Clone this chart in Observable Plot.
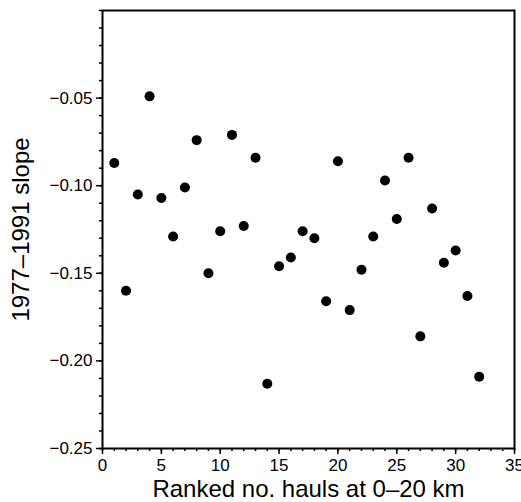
<!DOCTYPE html>
<html>
<head>
<meta charset="utf-8">
<script src="https://cdn.jsdelivr.net/npm/d3@7"></script>
<script src="https://cdn.jsdelivr.net/npm/@observablehq/plot@0.6"></script>
<style>
  html, body { margin: 0; padding: 0; background: #fff; }
  svg { display: block; }
</style>
</head>
<body>
<div id="chart"></div>
<script>
const rank = [1,2,3,4,5,6,7,8,9,10,11,12,13,14,15,16,17,18,19,20,21,22,23,24,25,26,27,28,29,30,31,32];
const slope = [-0.087,-0.160,-0.105,-0.049,-0.107,-0.129,-0.101,-0.074,-0.150,-0.126,-0.071,-0.123,-0.084,-0.213,-0.146,-0.141,-0.126,-0.130,-0.166,-0.086,-0.171,-0.148,-0.129,-0.097,-0.119,-0.084,-0.186,-0.113,-0.144,-0.137,-0.163,-0.209];
const xTicks = [0,5,10,15,20,25,30,35];
const yTicks = [-0.25,-0.20,-0.15,-0.10,-0.05];
const xMinor = d3.range(0, 36, 1);
const yMinor = d3.range(-25, 1, 1).map(d => d / 100);
const xLabel = "Ranked no. hauls at 0–20 km";
const yLabel = "1977–1991 slope";

const data = rank.map((r, i) => ({rank: r, slope: slope[i]}));

const chart = Plot.plot({
  width: 521,
  height: 502,
  marginLeft: 102,
  marginRight: 7,
  marginTop: 10,
  marginBottom: 54,
  style: {fontFamily: "'Liberation Sans', Arial, Helvetica, sans-serif", fontSize: "17px", color: "#000", background: "#fff"},
  x: {domain: [0, 35], label: null},
  y: {domain: [-0.25, 0], label: null},
  marks: [
    Plot.axisX(xMinor, {tickSize: 3, tickFormat: () => "", strokeWidth: 1.5, label: null}),
    Plot.axisX(xTicks, {tickSize: 6, tickPadding: 4, strokeWidth: 1.5, fontSize: 17, label: xLabel, labelAnchor: "center", labelArrow: "none", labelOffset: 48}),
    Plot.axisY(yMinor, {tickSize: 3, tickFormat: () => "", strokeWidth: 1.5, label: null}),
    Plot.axisY(yTicks, {tickSize: 6, tickPadding: 4, strokeWidth: 1.5, fontSize: 17, tickFormat: d3.format(".2f"), label: yLabel, labelAnchor: "center", labelArrow: "none", labelOffset: 91}),
    Plot.frame({stroke: "#000", strokeWidth: 2}),
    Plot.dot(data, {x: "rank", y: "slope", r: 5, fill: "#000", stroke: null})
  ]
});

d3.select(chart).selectAll("[aria-label='x-axis label'] text, [aria-label='y-axis label'] text").style("font-size", "24px");
document.getElementById("chart").appendChild(chart);
</script>
</body>
</html>
